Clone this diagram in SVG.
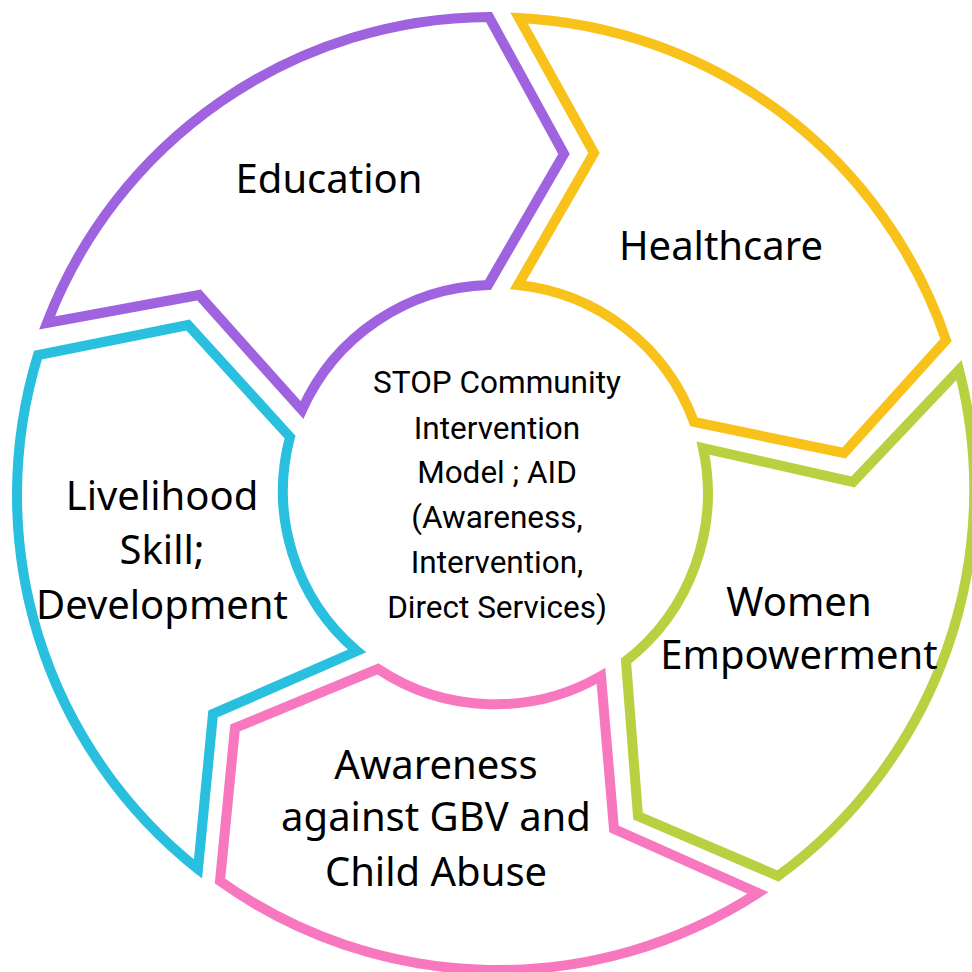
<svg xmlns="http://www.w3.org/2000/svg" width="972" height="972" viewBox="0 0 972 972">
<style>
.seg{fill:#fff;stroke-width:10;stroke-linejoin:miter;stroke-miterlimit:10}
.lbl{font-family:"Noto Sans","Open Sans",sans-serif;font-size:40px;fill:#000;text-anchor:middle}
.ctr{font-family:Roboto,"Noto Sans",sans-serif;font-size:31.5px;fill:#000;text-anchor:middle}
</style>
<rect width="972" height="972" fill="#fff"/>
<g id="education">
<path class="seg" stroke="#9F63E0" d="M47,323 A476,476 0 0 1 489,17 L564,154 L488,285 A211,211 0 0 0 302,410 L199,295 Z"/>
<text class="lbl" x="329" y="193">Education</text>
</g>
<g id="healthcare">
<path class="seg" stroke="#F8C21A" d="M519,18 A476,476 0 0 1 946,340 L844,453 L694,422 A211,211 0 0 0 518,285 L594,153 Z"/>
<text class="lbl" x="721" y="260">Healthcare</text>
</g>
<g id="women">
<path class="seg" stroke="#B7D140" d="M959,370 A478,478 0 0 1 778,876 L638,816 L626,661 A213,213 0 0 0 703,448 L853,482 Z"/>
<text class="lbl" x="799" y="616">Women</text>
<text class="lbl" x="799" y="669">Empowerment</text>
</g>
<g id="awareness">
<path class="seg" stroke="#F878C0" d="M758,893 A478,478 0 0 1 220,881 L235,728 L378,669 A212,212 0 0 0 601,676 L614,829 Z"/>
<text class="lbl" x="436" y="779">Awareness</text>
<text class="lbl" x="436" y="831">against GBV and</text>
<text class="lbl" x="436" y="886">Child Abuse</text>
</g>
<g id="livelihood">
<path class="seg" stroke="#29C0DF" d="M198,869 A477,477 0 0 1 38,355 L188,325 L290,437 A210,210 0 0 0 357,651 L213,714 Z"/>
<text class="lbl" x="162" y="510">Livelihood</text>
<text class="lbl" x="162" y="564">Skill;</text>
<text class="lbl" x="162" y="619">Development</text>
</g>
<g id="center">
<text class="ctr" x="497" y="393">STOP Community</text>
<text class="ctr" x="497" y="439">Intervention</text>
<text class="ctr" x="497" y="483">Model ; AID</text>
<text class="ctr" x="497" y="528">(Awareness,</text>
<text class="ctr" x="497" y="573">Intervention,</text>
<text class="ctr" x="497" y="618">Direct Services)</text>
</g>
<g id="connectors"></g>
</svg>
